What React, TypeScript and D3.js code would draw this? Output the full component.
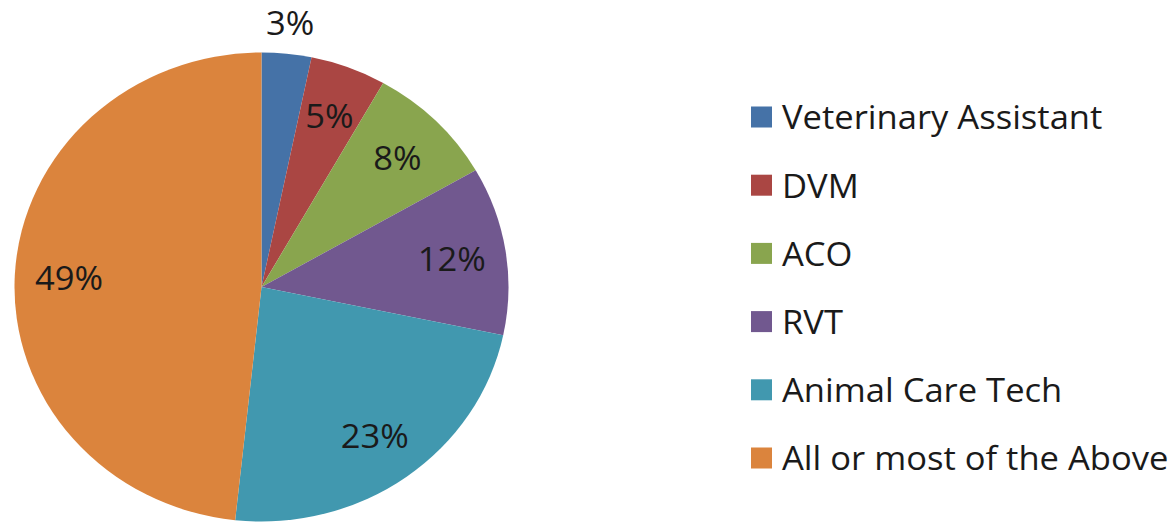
import React from "react";
import * as d3 from "d3";

const categories = ["Veterinary Assistant", "DVM", "ACO", "RVT", "Animal Care Tech", "All or most of the Above"];
const shares = [3.25, 4.95, 8.5, 11.6, 23.4, 48.3];
// printed percentage labels
const labels = ["3%", "5%", "8%", "12%", "23%", "49%"];
const colors = ["#4572A7", "#AA4643", "#89A54E", "#71588F", "#4198AF", "#DB843D"];

export default function App() {
  const W = 1175, H = 522;
  const cx = 261.5, cy = 287, R = 234.5, sx = 247 / 234.5;
  const tsx = 1.08;
  const pie = d3.pie<number>().sort(null).startAngle(0).endAngle(2 * Math.PI);
  const arcs = pie(shares);
  const arc = d3.arc<d3.PieArcDatum<number>>().innerRadius(0).outerRadius(R);
  const labelArc = d3.arc<d3.PieArcDatum<number>>().innerRadius(183).outerRadius(183);
  const outerArc = d3.arc<d3.PieArcDatum<number>>().innerRadius(266).outerRadius(266);
  const font = "'Open Sans', Lato, sans-serif";
  const fs = 32;
  return (
    <svg width={W} height={H} style={{ position: "absolute", left: 0, top: 0, background: "#fff" }}>
      <g transform={`translate(${cx},${cy}) scale(${sx},1)`}>
        {arcs.map((a, i) => (
          <path key={i} d={arc(a) as string} fill={colors[i]} />
        ))}
      </g>
      <g transform={`translate(${cx},${cy})`}>
        {arcs.map((a, i) => {
          const [x, y] = (shares[i] < 4 ? outerArc : labelArc).centroid(a);
          return (
            <text key={i} transform={`translate(${x * sx},${y}) scale(${tsx},1)`} textAnchor="middle" dominantBaseline="central"
              fontFamily={font} fontSize={fs} fill="#1a1a1a">
              {labels[i]}
            </text>
          );
        })}
      </g>
      <g>
        {categories.map((c, i) => {
          const y = 117 + i * 68.2;
          return (
            <g key={c}>
              <rect x={751} y={y - 10.5} width={21} height={21} fill={colors[i]} />
              <text transform={`translate(782,${y}) scale(${tsx},1)`} dominantBaseline="central" fontFamily={font} fontSize={fs} fill="#1a1a1a">{c}</text>
            </g>
          );
        })}
      </g>
    </svg>
  );
}
